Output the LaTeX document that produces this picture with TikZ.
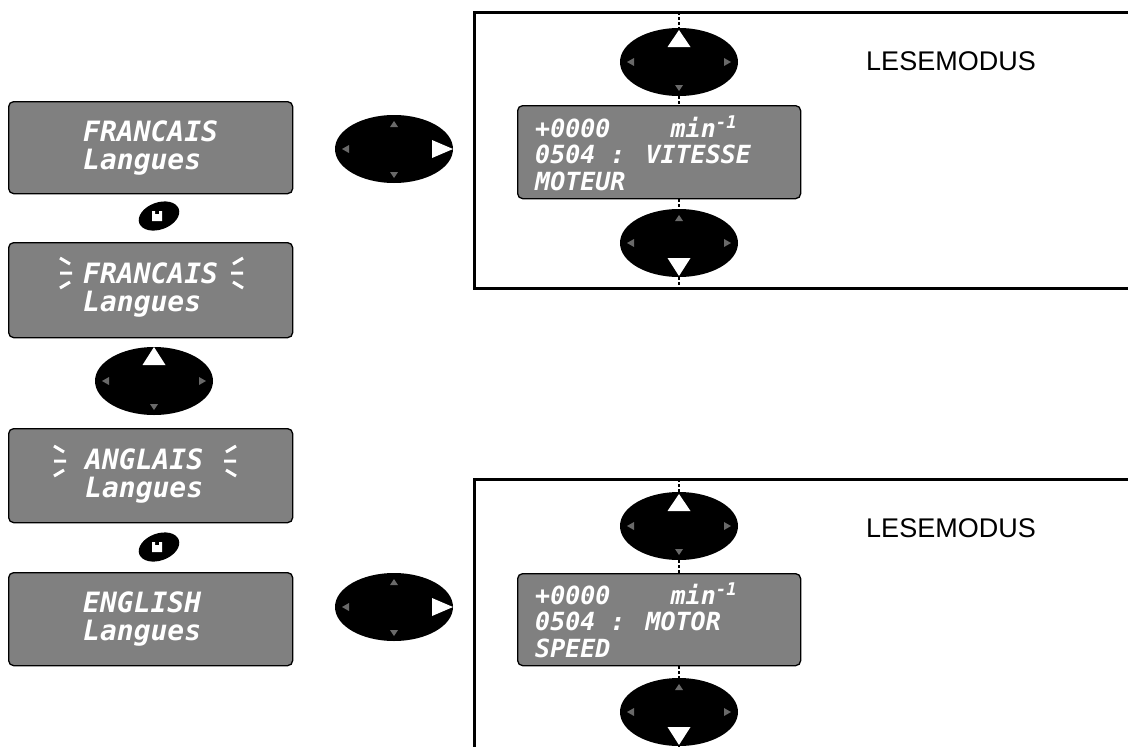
\documentclass[tikz,border=0pt]{standalone}
\usepackage{fontspec}
\setmainfont{Liberation Sans}
\newfontfamily\lcdfont{DejaVu Sans Mono}
\usetikzlibrary{shapes.geometric}

\definecolor{lcdgrey}{RGB}{128,128,128}
\definecolor{tipgrey}{RGB}{105,105,105}

\tikzset{
  lcd/.style={draw, line width=1.3pt, fill=lcdgrey, rounded corners=5pt, anchor=north west, inner sep=0pt},
  lcdtext/.style={text=white, font={\lcdfont\bfseries\itshape\fontsize{28}{28}\selectfont}, align=left, anchor=west, inner sep=0pt},
  readtext/.style={lcdtext, font={\lcdfont\bfseries\itshape\fontsize{25}{26.5}\selectfont}},
  key/.style={ellipse, fill=black, minimum width=118pt, minimum height=68pt, inner sep=0pt},
  mkey/.style={ellipse, fill=black, minimum width=42pt, minimum height=27pt, inner sep=0pt, rotate=20},
  frame/.style={line width=3pt},
  axis/.style={line width=1.2pt, dash pattern=on 3pt off 2pt},
  blink/.style={white, line width=3pt},
  mode/.style={font={\fontsize{27}{27}\selectfont}}
}

% keypad: name, centre, white arrow
\newcommand\keypad[3]{%
  \node[key] (#1) at (#2) {};
  \begin{scope}[shift={(#2)}]
    \fill[tipgrey] (0,28) -- (-4,22) -- (4,22) -- cycle;
    \fill[tipgrey] (0,-29) -- (-4,-23) -- (4,-23) -- cycle;
    \fill[tipgrey] (-52,0) -- (-45,4) -- (-45,-4) -- cycle;
    \fill[tipgrey] (52,0) -- (45,4) -- (45,-4) -- cycle;
    \fill[white] #3 -- cycle;
  \end{scope}}

% M key: name, centre
\newcommand\mbutton[2]{%
  \node[mkey] (#1) at (#2) {};
  \fill[white, shift={(#2)}, xshift=-2pt] (-5,-5) -- (5,-5) -- (5,5) -- (2,5) -- (2,2)
    -- (-2,2) -- (-2,5) -- (-5,5) -- cycle;}

% blinking rays: left centre, right centre
\newcommand\blinks[2]{%
  \draw[blink, shift={(#1)}] (-6,15) -- (4,9) (-6,0) -- (6,0) (-6,-15) -- (4,-9);
  \draw[blink, shift={(#2)}, xscale=-1] (-6,15) -- (4,9) (-6,0) -- (6,0) (-6,-15) -- (4,-9);}

\begin{document}
\begin{tikzpicture}[x=1pt,y=1pt]
\useasboundingbox (0,0) rectangle (1128,-747);
\clip (0,0) rectangle (1128,-747);

% left column
\node[lcd, minimum width=284pt, minimum height=92pt] (lang1) at (8,-101) {};
\node[lcdtext] (lang1txt) at (83,-148) {FRANCAIS\\Langues};

\mbutton{m1}{159,-216}

\node[lcd, minimum width=284pt, minimum height=95pt] (lang2) at (8,-242) {};
\node[lcdtext] (lang2txt) at (83,-290) {FRANCAIS\\Langues};
\blinks{66,-273}{237,-273}

\keypad{up0}{154,-381}{(0,34) -- (-11.5,16) -- (11.5,16)}

\node[lcd, minimum width=284pt, minimum height=94pt] (lang3) at (8,-428) {};
\node[lcdtext] (lang3txt) at (85,-476) {ANGLAIS\\Langues};
\blinks{60,-461}{230,-461}

\mbutton{m2}{159,-547}

\node[lcd, minimum width=284pt, minimum height=93pt] (lang4) at (8,-572) {};
\node[lcdtext] (lang4txt) at (83,-619) {ENGLISH\\Langues};

% right keys
\keypad{right1}{394,-149}{(59,0) -- (38,9) -- (38,-9)}
\keypad{right2}{394,-607}{(59,0) -- (38,9) -- (38,-9)}

% upper frame
\draw[frame] (1140,-12) -| (474,-288) -- (1140,-288);
\coordinate (top1) at (679,-12);
\coordinate (bot1) at (679,-288);
\node[lcd, minimum width=283pt, minimum height=93pt] (read1) at (517,-105) {};
\node[readtext] (read1txt) at (535,-153) {+0000~~~~min\textsuperscript{-1}\\0504 : VITESSE\\MOTEUR};
\keypad{up1}{679,-62}{(0,32) -- (-11.5,15) -- (11.5,15)}
\keypad{down1}{679,-243}{(0,-33) -- (-11.5,-15) -- (11.5,-15)}
\draw[axis] (top1) -- (up1.north);
\draw[axis] (up1.south) -- (read1.north -| up1);
\draw[axis] (read1.south -| up1) -- (down1.north);
\draw[axis] (down1.south) -- (bot1);
\node[mode] (mode1) at (951,-61) {LESEMODUS};

% lower frame
\draw[frame] (1140,-479) -| (474,-760);
\coordinate (top2) at (679,-479);
\coordinate (bot2) at (679,-747);
\node[lcd, minimum width=283pt, minimum height=92pt] (read2) at (517,-573) {};
\node[readtext] (read2txt) at (535,-620) {+0000~~~~min\textsuperscript{-1}\\0504 : MOTOR\\SPEED};
\keypad{up2}{679,-526}{(0,32) -- (-11.5,15) -- (11.5,15)}
\keypad{down2}{679,-712}{(0,-33) -- (-11.5,-15) -- (11.5,-15)}
\draw[axis] (top2) -- (up2.north);
\draw[axis] (up2.south) -- (read2.north -| up2);
\draw[axis] (read2.south -| up2) -- (down2.north);
\draw[axis] (down2.south) -- (bot2);
\node[mode] (mode2) at (951,-528) {LESEMODUS};

\end{tikzpicture}
\end{document}
